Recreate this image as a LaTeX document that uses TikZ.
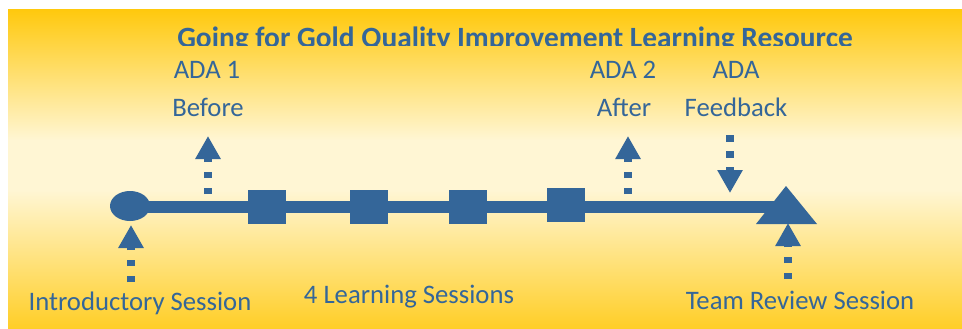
\documentclass[tikz,border=0pt]{standalone}
\usepackage{fontspec}
\setmainfont{Carlito}
\usetikzlibrary{shapes.geometric,arrows.meta}
\definecolor{blu}{RGB}{52,102,153}
\definecolor{gtop}{RGB}{255,201,14}
\definecolor{gmid}{RGB}{255,246,212}
\definecolor{gbot}{RGB}{255,206,38}
\tikzset{
  lbl/.style={font=\fontsize{26.7}{30}\selectfont, text=blu, inner sep=0pt, anchor=base},
  ttl/.style={font=\fontsize{29.4}{33}\selectfont\bfseries, text=blu, inner sep=0pt, anchor=base},
  sq/.style={fill=blu, minimum width=38pt, minimum height=34pt, inner sep=0pt},
  dasharrow/.style={blu, line width=7.5pt, dash pattern=on 6.5pt off 9.5pt, -{Triangle[width=24pt,length=23pt]}},
  mainline/.style={blu, line width=12.5pt}
}
\begin{document}
\begin{tikzpicture}[x=1pt,y=-1pt]
\useasboundingbox (0,0) rectangle (962,329);
% background gradient: gold - cream - gold
\shade[top color=gtop, bottom color=gmid] (8,10) rectangle (962,140.5);
\fill[gmid] (8,140) rectangle (962,190.5);
\shade[top color=gmid, bottom color=gbot] (8,190) rectangle (962,329);
% title, clipped just above its baseline
\begin{scope}
  \clip (8,10) rectangle (962,45.2);
  \node[ttl] (title) at (515,47.5) {Going for Gold Quality Improvement Learning Resource};
\end{scope}
% timeline
\coordinate (p0) at (130,207);
\coordinate (pend) at (790,207);
\draw[mainline] (p0) -- (pend);
\node[ellipse, fill=blu, minimum width=40pt, minimum height=30pt, inner sep=0pt] (start) at (130,206) {};
\node[sq] (s1) at (267,207) {};
\node[sq] (s2) at (369,207) {};
\node[sq] (s3) at (468,207) {};
\node[sq] (s4) at (566,205) {};
\fill[blu] (756,224) -- (786,186) -- (817,224) -- cycle;
\coordinate (tri) at (786,224);
% labels
\node[lbl] (ada1) at (207,79) {ADA 1};
\node[lbl] (before) at (208,117) {Before};
\node[lbl] (ada2) at (623,79) {ADA 2};
\node[lbl] (after) at (624,117) {After};
\node[lbl] (ada3) at (736,79) {ADA};
\node[lbl] (feedback) at (736,117) {Feedback};
\node[lbl] (intro) at (140,310) {Introductory Session};
\node[lbl] (learn) at (409,303) {4 Learning Sessions};
\node[lbl] (team) at (800,309) {Team Review Session};
% dashed arrows
\coordinate (a1s) at (208,194); \coordinate (a1e) at (208,136);
\coordinate (a2s) at (628,194); \coordinate (a2e) at (628,136);
\coordinate (a3s) at (730,135); \coordinate (a3e) at (730,193);
\coordinate (a4s) at (131,282); \coordinate (a4e) at (131,225);
\coordinate (a5s) at (788,279); \coordinate (a5e) at (788,223);
\draw[dasharrow] (a1s) -- (a1e);
\draw[dasharrow] (a2s) -- (a2e);
\draw[dasharrow] (a3s) -- (a3e);
\draw[dasharrow] (a4s) -- (a4e);
\draw[dasharrow] (a5s) -- (a5e);
\end{tikzpicture}
\end{document}
